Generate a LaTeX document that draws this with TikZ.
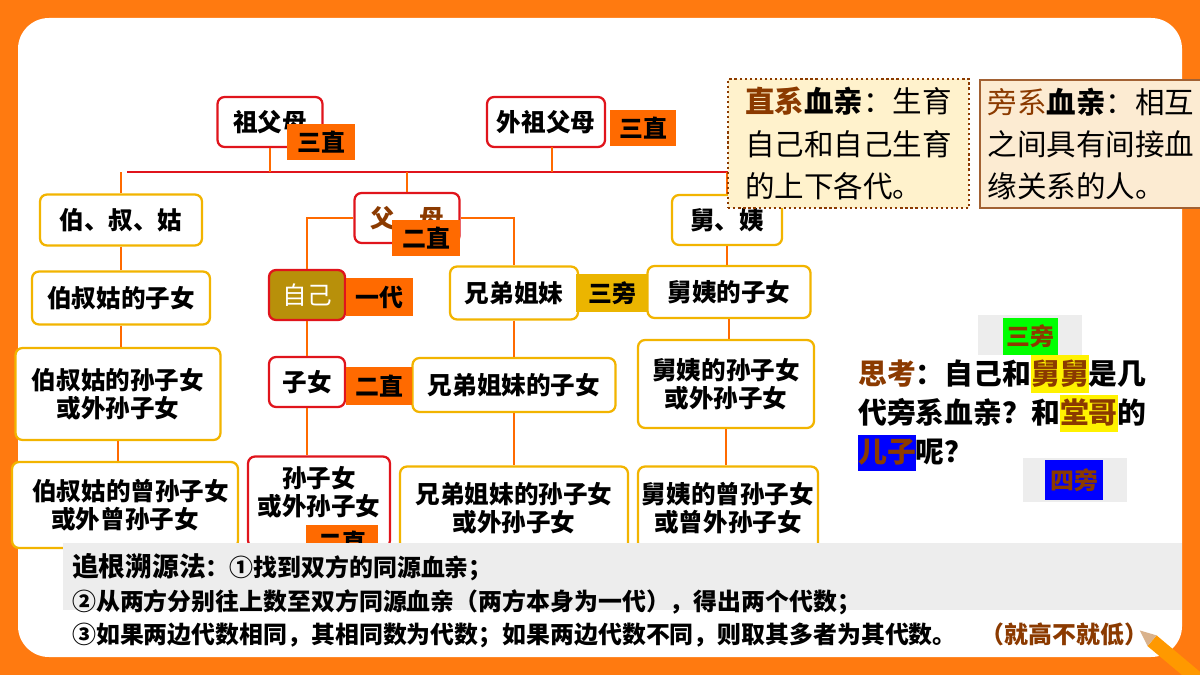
\documentclass[tikz,border=0pt]{standalone}
\usepackage{fontspec}
\setmainfont{Noto Sans CJK SC}
\usetikzlibrary{positioning}
\newdimen\pxu \pxu=0.025cm
\definecolor{framebg}{HTML}{FF7A10}
\definecolor{linkred}{HTML}{E0141C}
\definecolor{linkor}{HTML}{FF6A00}
\definecolor{boxyel}{HTML}{F2B400}
\definecolor{tagor}{HTML}{FF6A00}
\definecolor{taggold}{HTML}{EBB500}
\definecolor{selfbg}{HTML}{B8900A}
\definecolor{brownt}{HTML}{8B3A00}
\definecolor{notebg}{HTML}{FFF2CC}
\definecolor{notebgb}{HTML}{FCEBD2}
\definecolor{greybar}{HTML}{EDEDED}
\tikzset{
  kin/.style={draw=boxyel,line width=1.6pt,rounded corners=5pt,fill=white,
    align=center,font=\fontsize{17.5}{20}\selectfont\bfseries,inner sep=0pt},
  direct/.style={kin,draw=linkred},
  tag/.style={fill=tagor,font=\fontsize{17}{19}\selectfont\bfseries,inner sep=0pt},
  link/.style={linkor,line width=2pt},
  rootlink/.style={linkred,line width=1.6pt},
}
\begin{document}
\begin{tikzpicture}[x=\pxu,y=-\pxu]
  % frame
  \fill[framebg] (0,0) rectangle (1200,675);
  \fill[white,rounded corners=22pt] (18,18) rectangle (1182,657);
  \useasboundingbox (0,0) rectangle (1200,675);

  % top generation
  \node[direct,minimum width=105\pxu,minimum height=50\pxu] (gp) at (270,122) {祖父母};
  \node[direct,minimum width=118\pxu,minimum height=50\pxu] (mgp) at (546,122) {外祖父母};
  \coordinate (bar) at (420,172);
  \draw[rootlink] (127,172) -- (740,172);
  \draw[link] (gp.south) -- (gp.south |- bar);
  \draw[link] (552,147) -- (552,172);

  % second row
  \node[kin,minimum width=162\pxu,minimum height=51\pxu] (uncle) at (121,220) {伯、叔、姑};
  \node[direct,minimum width=105\pxu,minimum height=50\pxu,text=brownt] (par) at (407,218) {父\quad 母};
  \node[kin,minimum width=110\pxu,minimum height=50\pxu] (mu) at (727,220) {舅、姨};
  \draw[link] (uncle.north) -- (uncle.north |- bar);
  \draw[link] (par.north) -- (par.north |- bar);
  \draw[link] (mu.north) -- (mu.north |- bar);

  % third row
  \node[kin,minimum width=178\pxu,minimum height=53\pxu] (u1) at (121,298) {伯叔姑的子女};
  \node[direct,fill=selfbg,text=white,font=\fontsize{17.5}{20}\selectfont,minimum width=76\pxu,minimum height=50\pxu] (self) at (307,295) {自己};
  \node[kin,minimum width=128\pxu,minimum height=53\pxu] (sib) at (514,293) {兄弟姐妹};
  \node[kin,minimum width=163\pxu,minimum height=52\pxu] (m1) at (729,292) {舅姨的子女};
  \draw[link] (par.west) -| (self.north);
  \draw[link] (par.east) -| (sib.north);
  \draw[link] (uncle.south) -- (uncle.south |- u1.north);
  \draw[link] (mu.south) -- (mu.south |- m1.north);

  % fourth row
  \node[kin,minimum width=205\pxu,minimum height=92\pxu] (u2) at (118,394) {伯叔姑的孙子女\\或外孙子女};
  \node[direct,minimum width=76\pxu,minimum height=50\pxu] (kid) at (307,382) {子女};
  \node[kin,minimum width=203\pxu,minimum height=54\pxu] (s1) at (514,385) {兄弟姐妹的子女};
  \node[kin,minimum width=176\pxu,minimum height=88\pxu] (m2) at (726,384) {舅姨的孙子女\\或外孙子女};
  \draw[link] (u1.south) -- (u1.south |- u2.north);
  \draw[link] (self.south) -- (kid.north);
  \draw[link] (sib.south) -- (sib.south |- s1.north);
  \draw[link] (m1.south) -- (m1.south |- m2.north);

  % fifth row
  \node[kin,minimum width=226\pxu,minimum height=86\pxu] (u3) at (125,505) {\hspace{8pt}伯叔姑的曾孙子女\\或外曾孙子女};
  \node[direct,minimum width=142\pxu,minimum height=91\pxu,text depth=22\pxu] (gk) at (319,502) {孙子女\\或外孙子女};
  \node[kin,minimum width=228\pxu,minimum height=83\pxu] (s2) at (514,508) {兄弟姐妹的孙子女\\或外孙子女};
  \node[kin,minimum width=180\pxu,minimum height=83\pxu] (m3) at (728,508) {舅姨的曾孙子女\\或曾外孙子女};
  \draw[link] (u2.south) -- (u2.south |- u3.north);
  \draw[link] (kid.south) -- (kid.south |- gk.north);
  \draw[link] (s1.south) -- (s1.south |- s2.north);
  \draw[link] (m2.south) -- (m2.south |- m3.north);

  % generation tags
  \node[tag,minimum width=68\pxu,minimum height=36\pxu] (t1) at (321,142) {三直};
  \node[tag,minimum width=66\pxu,minimum height=36\pxu] (t2) at (643,128) {三直};
  \node[tag,minimum width=68\pxu,minimum height=36\pxu] (t3) at (426,238) {二直};
  \node[tag,minimum width=67\pxu,minimum height=38\pxu] (t4) at (379,297) {一代};
  \node[tag,fill=taggold,minimum width=72\pxu,minimum height=38\pxu] (t5) at (612,293) {三旁};
  \node[tag,minimum width=66\pxu,minimum height=38\pxu] (t6) at (379,386) {二直};
  \node[tag,minimum width=72\pxu,minimum height=34\pxu] (t7) at (342,542) {二直};

  % definitions
  \node[draw=brownt,dotted,line width=1.6pt,fill=notebg,minimum width=241\pxu,minimum height=129\pxu,
    align=left,font=\fontsize{21}{30}\selectfont,inner sep=3pt,anchor=north west] (dir) at (727,78)
    {\textbf{\textcolor{brownt}{直系}血亲}：生育\\自己和自己生育\\的上下各代。};
  \node[draw=brownt!80,line width=1.4pt,fill=notebgb,minimum width=222\pxu,minimum height=128\pxu,
    align=left,font=\fontsize{21}{30}\selectfont,inner sep=3pt,anchor=north west] (col) at (979,79)
    {\textcolor{brownt}{旁系}\textbf{血亲}：相互\\之间具有间接血\\缘关系的人。};

  % question
  \fill[greybar] (978,315) rectangle (1082,355);
  \node[fill=green,text=brownt,font=\fontsize{17}{19}\selectfont\bfseries,minimum width=55\pxu,minimum height=37\pxu,inner sep=0pt] (a1) at (1030,336) {三旁};
  \fill[greybar] (1023,458) rectangle (1127,502);
  \node[fill=blue,text=brownt,font=\fontsize{17}{19}\selectfont\bfseries,minimum width=58\pxu,minimum height=40\pxu,inner sep=0pt] (a2) at (1074,480) {四旁};
  \node[align=left,anchor=north west,font=\fontsize{20.5}{28}\selectfont\bfseries,inner sep=0pt] (ask) at (858,355)
    {\textcolor{brownt}{思考}：自己和\colorbox{yellow}{\rule[-3pt]{0pt}{20pt}\hspace{-3pt}\textcolor{brownt}{舅舅}\hspace{-3pt}}是几\\
     代旁系血亲？和\colorbox{yellow}{\rule[-3pt]{0pt}{20pt}\hspace{-3pt}\textcolor{brownt}{堂哥}\hspace{-3pt}}的\\
     \colorbox{blue}{\rule[-3pt]{0pt}{20pt}\hspace{-3pt}\textcolor{brownt}{儿子}\hspace{-3pt}}呢？};

  % method
  \fill[greybar] (63,543) rectangle (1182,610);
  \node[align=left,anchor=north west,font=\fontsize{17}{24}\selectfont\bfseries,inner sep=0pt] (rule) at (72,553)
    {{\fontsize{19}{24}\selectfont 追根溯源法}：①找到双方的同源血亲；\\
     ②从两方分别往上数至双方同源血亲（两方本身为一代），得出两个代数；\\
     ③如果两边代数相同，其相同数为代数；如果两边代数不同，则取其多者为其代数。\quad\textcolor{brownt}{（就高不就低）}};

  % pencil
  \fill[orange!80!yellow,rotate around={-40:(1175,660)}] (1145,653) rectangle (1215,667);
  \fill[brown!60,rotate around={-40:(1175,660)}] (1145,653) -- (1129,660) -- (1145,667) -- cycle;
\end{tikzpicture}
\end{document}
